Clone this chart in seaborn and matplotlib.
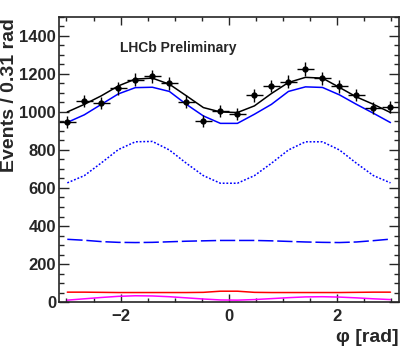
"""
LHCb-style phi distribution with fit components.
"""

import matplotlib

matplotlib.use("Agg")

import matplotlib.pyplot as plt
import numpy as np
import pandas as pd
import seaborn as sns
from matplotlib.ticker import MultipleLocator

# 20 bins of 0.314 rad over [-pi, pi]
n_bins = 20
bin_width = 2 * np.pi / n_bins
phi = -np.pi + bin_width * (np.arange(n_bins) + 0.5)

data_counts = [947, 1058, 1046, 1125, 1169, 1187, 1152, 1055, 953, 1005,
               988, 1088, 1137, 1160, 1226, 1178, 1136, 1090, 1023, 1026]

total_fit = [1000, 1040, 1085, 1137, 1173, 1178, 1146, 1085, 1023, 1000,
             997, 1032, 1097, 1155, 1182, 1178, 1129, 1079, 1040, 997]

signal_sum = [945, 985, 1040, 1095, 1128, 1130, 1108, 1040, 979, 940,
              940, 988, 1040, 1108, 1132, 1129, 1090, 1040, 993, 944]

signal_dotted = [627, 665, 732, 802, 843, 845, 800, 730, 665, 625,
                 625, 665, 730, 800, 843, 843, 800, 730, 665, 627]

signal_dashed = [330, 325, 318, 314, 313, 314, 317, 320, 322, 324,
                 324, 324, 322, 319, 316, 314, 313, 316, 323, 331]

bkg_red = [52, 52, 51, 50, 50, 50, 50, 50, 51, 57,
           57, 51, 50, 50, 50, 50, 50, 51, 52, 52]

bkg_magenta = [10, 17, 24, 30, 33, 32, 28, 22, 16, 11,
               10, 13, 18, 23, 27, 28, 26, 22, 17, 13]

sns.set_style("ticks")
plt.rcParams["font.family"] = ["Liberation Sans", "DejaVu Sans"]
plt.rcParams["font.weight"] = "bold"

curves = pd.DataFrame({
    "phi": phi,
    "total": total_fit,
    "signal": signal_sum,
    "dotted": signal_dotted,
    "dashed": signal_dashed,
    "red": bkg_red,
    "magenta": bkg_magenta,
})

fig = plt.figure(figsize=(4.2, 3.6), dpi=100)
ax = fig.add_axes([0.140, 0.161, 0.810, 0.792])

styles = [
    ("magenta", "#ff00ff", None),
    ("red", "#ff0000", None),
    ("dashed", "#0000ff", (10, 2.5)),
    ("dotted", "#0000ff", (1.2, 1.2)),
    ("signal", "#0000ff", None),
    ("total", "black", None),
]
for column, color, dash in styles:
    sns.lineplot(data=curves, x="phi", y=column, color=color, linewidth=1.1,
                 estimator=None, ax=ax)
    if dash is not None:
        ax.lines[-1].set_dashes(dash)

ax.errorbar(phi, data_counts, xerr=bin_width / 2, yerr=np.sqrt(data_counts),
            fmt="o", color="black", markersize=3.5, elinewidth=1.0, capsize=0)

ax.set_xlim(-np.pi, np.pi)
ax.set_ylim(0, 1500)
ax.xaxis.set_major_locator(MultipleLocator(2))
ax.xaxis.set_minor_locator(MultipleLocator(0.5))
ax.yaxis.set_major_locator(MultipleLocator(200))
ax.yaxis.set_minor_locator(MultipleLocator(50))
ax.set_yticks([0, 200, 400, 600, 800, 1000, 1200, 1400])
ax.tick_params(axis="both", which="both", direction="in", top=True, right=True,
               labelsize=12, width=1.0)
ax.tick_params(axis="y", which="major", length=7, pad=2)
ax.tick_params(axis="y", which="minor", length=3.5)
ax.tick_params(axis="x", which="major", length=6, pad=5)
ax.tick_params(axis="x", which="minor", length=3)
for label in ax.get_xticklabels() + ax.get_yticklabels():
    label.set_fontweight("bold")
for spine in ax.spines.values():
    spine.set_linewidth(1.2)

ax.set_xlabel("")
ax.set_ylabel("")
fig.text(0.022, 0.95, "Events / 0.31 rad", rotation=90, ha="center", va="top",
         fontsize=14, fontweight="bold")
fig.text(0.95, 0.062, "φ [rad]", ha="right", va="center", fontsize=14,
         fontweight="bold")
ax.text(0.179, 0.89, "LHCb Preliminary", transform=ax.transAxes, fontsize=10,
        fontweight="bold", ha="left", va="center")

fig.savefig("out.png", dpi=100)
plt.close(fig)
